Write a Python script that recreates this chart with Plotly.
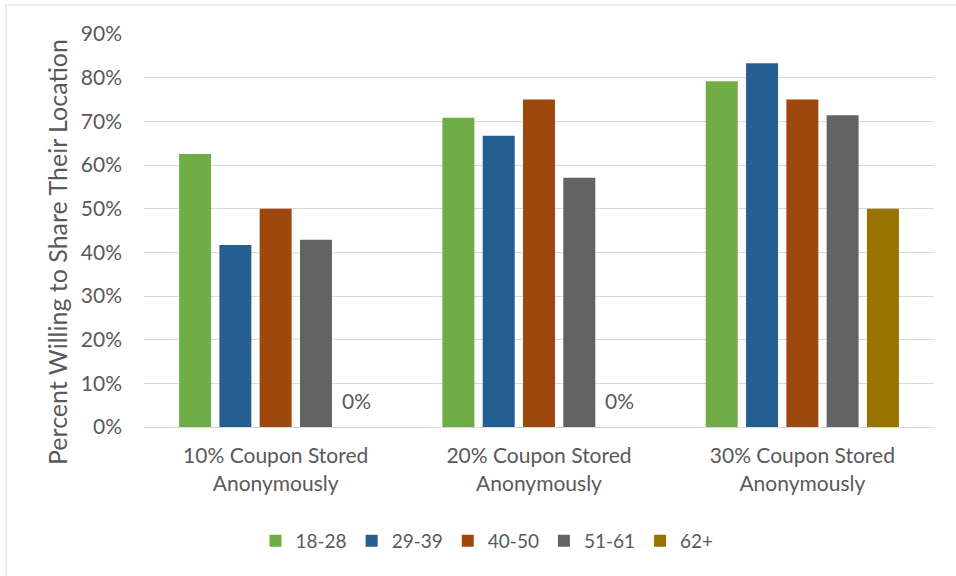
import plotly.graph_objects as go

categories = ["10% Coupon Stored<br>Anonymously", "20% Coupon Stored<br>Anonymously", "30% Coupon Stored<br>Anonymously"]
series_names = ["18-28", "29-39", "40-50", "51-61", "62+"]
v_18_28 = [0.625, 0.708, 0.792]
v_29_39 = [0.417, 0.667, 0.833]
v_40_50 = [0.50, 0.75, 0.75]
v_51_61 = [0.429, 0.571, 0.714]
v_62 = [0.0, 0.0, 0.50]
series_values = [v_18_28, v_29_39, v_40_50, v_51_61, v_62]
colors = ["#70AD47", "#255E91", "#9E480E", "#636363", "#997300"]
y_ticks = [0, 0.1, 0.2, 0.3, 0.4, 0.5, 0.6, 0.7, 0.8, 0.9]
y_title = "Percent Willing to Share Their Location"

FONT = "Lato"
TXT = "#595959"
FS = 21

W, H = 956, 576
L, R, T, B = 144, 22, 34, 149
pw, ph = W - L - R, H - T - B
BARGAP, BARGROUPGAP = 0.235, 0.206
n_series = len(series_names)
slot_px = (pw / len(categories)) * (1 - BARGAP) / n_series

fig = go.Figure()
annotations = []
for i, (name, vals, col) in enumerate(zip(series_names, series_values, colors)):
    fig.add_trace(go.Bar(
        x=categories, y=vals, name=name, marker=dict(color=col, line=dict(width=0)),
    ))
    for cat, v in zip(categories, vals):
        if v == 0:
            annotations.append(dict(
                x=cat, y=v, xref="x", yref="y", text=f"{v:.0%}", showarrow=False,
                xshift=(i - (n_series - 1) / 2) * slot_px, yanchor="bottom", yshift=12,
                font=dict(family=FONT, size=FS, color=TXT)))

# rotated y-axis title, positioned like the original
annotations.append(dict(
    text=y_title, textangle=-90, showarrow=False,
    xref="paper", yref="paper", x=(57 - L) / pw, xanchor="center",
    y=(T + ph - 252) / ph, yanchor="middle",
    font=dict(family=FONT, size=25, color=TXT)))

fig.update_layout(
    width=W, height=H,
    margin=dict(l=L, r=R, t=T, b=B),
    paper_bgcolor="white", plot_bgcolor="white",
    barmode="group", bargap=BARGAP, bargroupgap=BARGROUPGAP,
    font=dict(family=FONT, size=FS, color=TXT),
    showlegend=True,
    legend=dict(orientation="h", x=(487 - L) / pw, xanchor="center",
                y=-(541 - (T + ph)) / ph, yanchor="middle",
                font=dict(family=FONT, size=19, color=TXT),
                traceorder="normal", itemwidth=30),
    xaxis=dict(showgrid=False, showline=True, linecolor="#D9D9D9", linewidth=1,
               ticks="", ticklabelstandoff=10,
               tickfont=dict(family=FONT, size=FS, color=TXT)),
    yaxis=dict(range=[0, 0.9], tickvals=y_ticks, tickformat=".0%",
               showgrid=True, gridcolor="#D9D9D9", gridwidth=1, zeroline=False,
               showline=False, ticks="", ticklen=0, ticklabelstandoff=21,
               tickfont=dict(family=FONT, size=FS, color=TXT)),
    annotations=annotations,
    shapes=[dict(type="rect", xref="paper", yref="paper",
                 x0=(6 - L) / pw, x1=(W + 5 - L) / pw,
                 y0=-(H + 5 - T - ph) / ph, y1=(T + ph - 5) / ph,
                 line=dict(color="#D9D9D9", width=1), fillcolor="rgba(0,0,0,0)", layer="below")],
)

fig.write_html("out.html")
